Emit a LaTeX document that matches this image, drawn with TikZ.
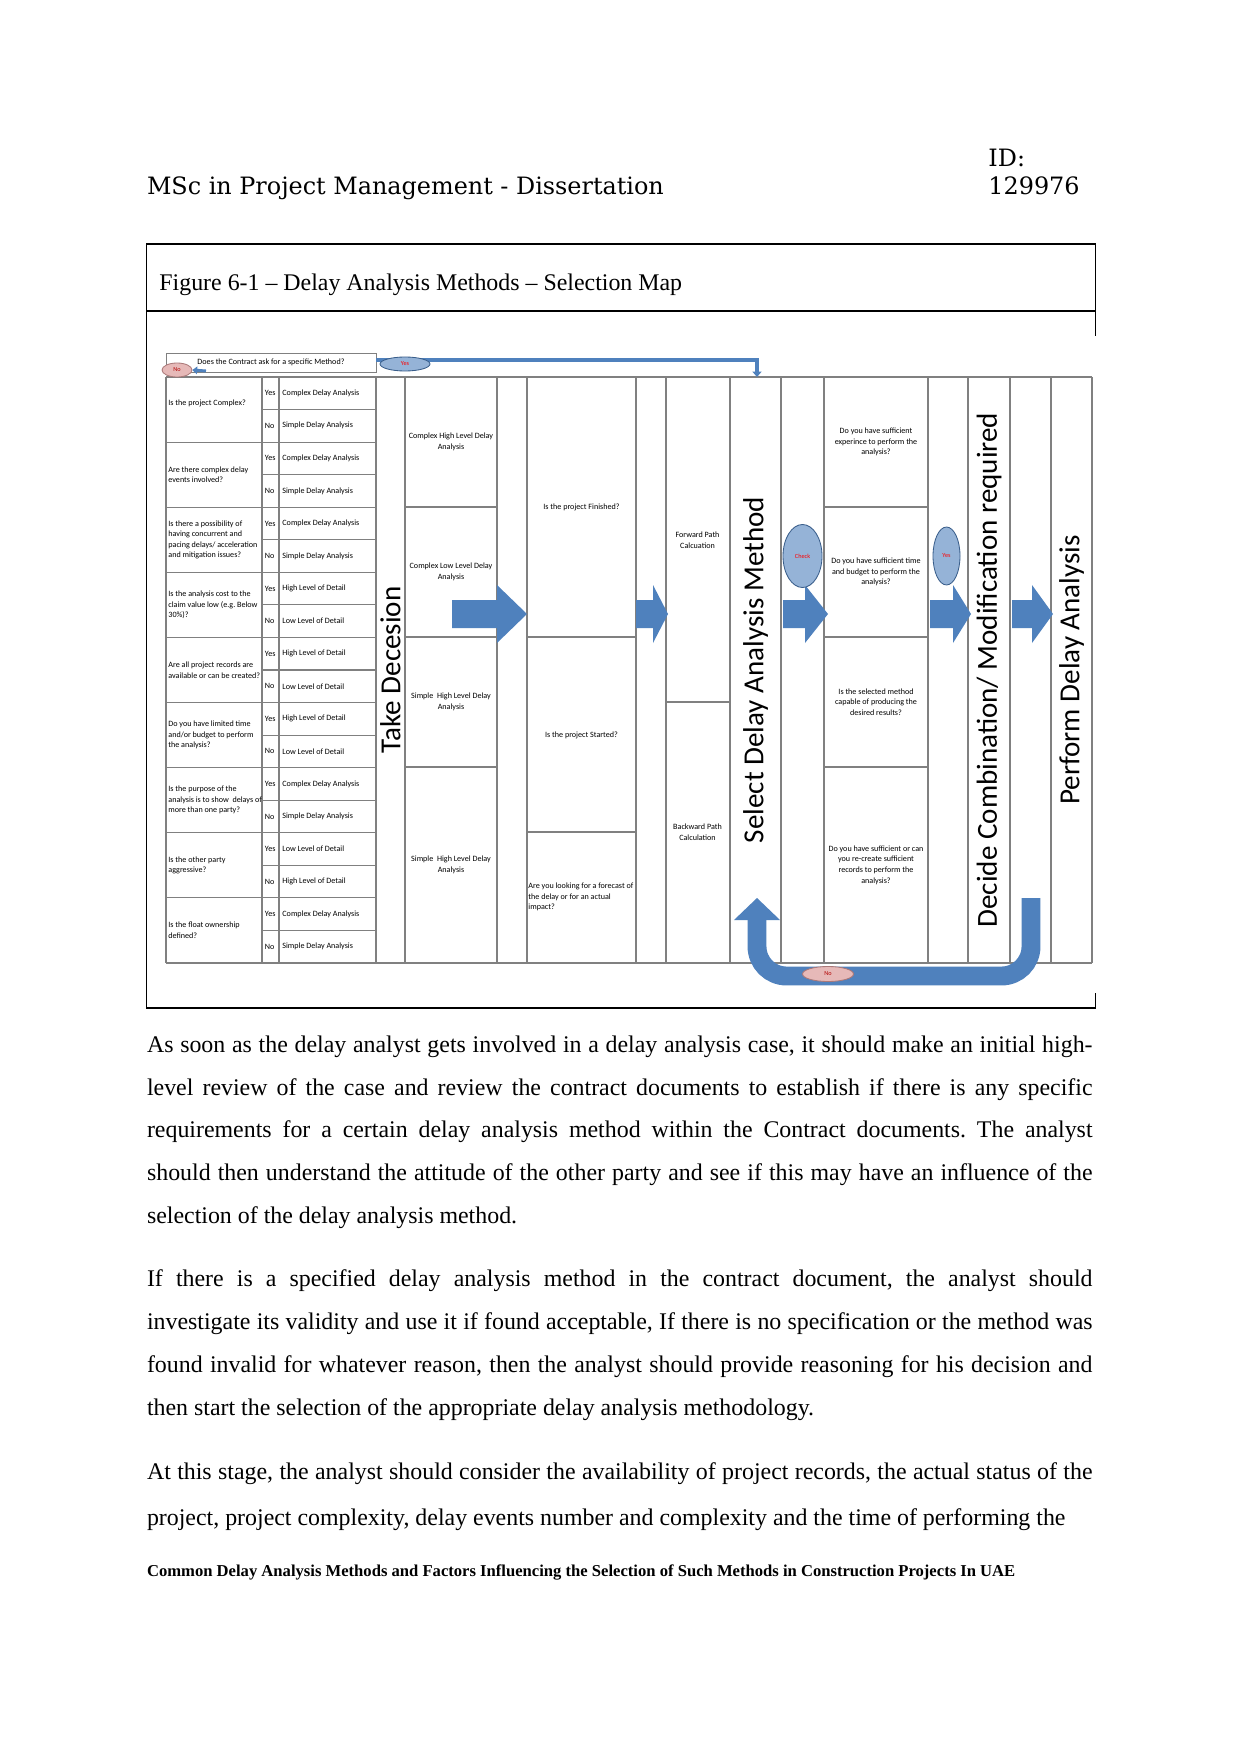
\documentclass[tikz,border=0pt]{standalone}
\usepackage{fontspec}
\setmainfont{Liberation Serif}
\newfontfamily\headfont{DejaVu Serif}
\newfontfamily\figfont{Carlito}
\usepackage{xcolor}
\usepackage{tikz}
\usetikzlibrary{arrows.meta, positioning, shapes.geometric, calc}
\frenchspacing

\definecolor{arrowblue}{RGB}{79,129,189}
\definecolor{ovalblue}{RGB}{149,179,215}
\definecolor{ovalline}{RGB}{56,93,138}
\definecolor{ovalpink}{RGB}{230,185,184}
\definecolor{pinkline}{RGB}{170,120,120}
\definecolor{gridgray}{RGB}{128,128,128}

\begin{document}
\begin{tikzpicture}[
    x=0.16922mm, y=-0.16922mm,
    grid/.style={draw=gridgray, line width=0.5pt},
    cell/.style={
        font={\figfont\fontsize{3.9}{5.1}\selectfont},
        align=center,
        inner sep=0pt
    },
    qtext/.style={cell, align=left, anchor=west},
    lanelabel/.style={
        font={\figfont\fontsize{14}{16}\selectfont},
        rotate=90,
        inner sep=0pt
    },
    yesoval/.style={
        ellipse,
        draw=ovalline,
        fill=ovalblue,
        inner sep=0pt,
        font={\figfont\fontsize{3}{3.5}\selectfont},
        text=red
    },
    nooval/.style={
        ellipse,
        draw=pinkline,
        fill=ovalpink,
        inner sep=0pt,
        font={\figfont\fontsize{3}{3.5}\selectfont},
        text=red!70!black
    },
    yesline/.style={
        arrowblue,
        line width=0.68mm,
        -{Triangle[length=0.9mm, width=1.5mm]}
    },
    uturn/.style={
        arrowblue,
        line width=3.2mm,
        rounded corners=5mm
    },
    headtext/.style={anchor=base west, inner sep=0pt, font={\headfont\fontsize{11.5}{13}\selectfont}},
    bodyline/.style={anchor=base west, inner sep=0pt, font={\fontsize{11.5}{14}\selectfont}}
]
\fill[white] (0,0) rectangle (1241,1754);
\useasboundingbox (0,0) rectangle (1241,1754);

% === Page header ===
\node[headtext] (title) at (146.6,195) {MSc in Project Management - Dissertation};
\node[headtext] (idlabel) at (988,167) {ID:};
\node[headtext] (idnum) at (988,195) {129976};

% === Figure frame ===
\draw[line width=0.6pt] (1095.5,336) -- (1095.5,244) -- (146.6,244) -- (146.6,1008) -- (1095.5,1008) -- (1095.5,993);
\draw[line width=0.6pt] (146.6,311) -- (1095.5,311);
\node[bodyline] (caption) at (159,291) {Figure 6-1 – Delay Analysis Methods – Selection Map};

% === Table grid ===
\foreach \x in {166,262,279,376,405,497,527,636,666,730,781,824,928,968,1010,1051,1092}
    \draw[grid] (\x,377) -- (\x,963);
\draw[grid] (279.8,377) -- (279.8,963);
\draw[grid] (166,377) -- (1092,377);
\draw[grid] (166,963) -- (1092,963);
\foreach \k in {1,...,17} {
    \pgfmathsetmacro{\yr}{377+\k*32.556}
    \draw[grid] (262,\yr) -- (376,\yr);
}
\foreach \k in {2,4,...,16} {
    \pgfmathsetmacro{\yr}{377+\k*32.556}
    \draw[grid] (166,\yr) -- (262,\yr);
}
\foreach \y in {507,637,767} {
    \draw[grid] (405,\y) -- (497,\y);
    \draw[grid] (824,\y) -- (928,\y);
}
\draw[grid] (527,637) -- (636,637);
\draw[grid] (527,832) -- (636,832);
\draw[grid] (666,702) -- (730,702);

% === Questions ===
\node[qtext] (q1) at (168,403) {Is the project Complex?};
\node[qtext] (q2) at (168,474.7) {Are there complex delay\\events involved?};
\node[qtext] (q3) at (168,539.8) {Is there a possibility of\\having concurrent and\\pacing delays/ acceleration\\and mitigation issues?};
\node[qtext] (q4) at (168,604.9) {Is the analysis cost to the\\claim value low (e.g. Below\\30\%)?};
\node[qtext] (q5) at (168,670) {Are all project records are\\available or can be created?};
\node[qtext] (q6) at (168,735.1) {Do you have limited time\\and/or budget to perform\\the analysis?};
\node[qtext] (q7) at (168,800.2) {Is the purpose of the\\analysis is to show\ \ delays of\\more than one party?};
\node[qtext] (q8) at (168,865.3) {Is the other party\\aggressive?};
\node[qtext] (q9) at (168,930.4) {Is the float ownership\\defined?};

% === Answers ===
\foreach \k/\yn/\ans in {1/Yes/Complex Delay Analysis, 2/No/Simple Delay Analysis,
    3/Yes/Complex Delay Analysis, 4/No/Simple Delay Analysis,
    5/Yes/Complex Delay Analysis, 6/No/Simple Delay Analysis,
    7/Yes/High Level of Detail, 8/No/Low Level of Detail,
    9/Yes/High Level of Detail, 10/No/Low Level of Detail,
    11/Yes/High Level of Detail, 12/No/Low Level of Detail,
    13/Yes/Complex Delay Analysis, 14/No/Simple Delay Analysis,
    15/Yes/Low Level of Detail, 16/No/High Level of Detail,
    17/Yes/Complex Delay Analysis, 18/No/Simple Delay Analysis} {
    \pgfmathsetmacro{\yc}{377+(\k-0.5)*32.556}
    \node[qtext] (yn\k) at (264.5,\yc) {\yn};
    \node[qtext] (ans\k) at (282,\yc) {\ans};
}

% === Methods and status ===
\node[cell] (m1) at (451,442) {Complex High Level Delay\\Analysis};
\node[cell] (m2) at (451,572) {Complex Low Level Delay\\Analysis};
\node[cell] (m3) at (451,702) {Simple\ \ High Level Delay\\Analysis};
\node[cell] (m4) at (451,865) {Simple\ \ High Level Delay\\Analysis};
\node[cell] (s1) at (581.5,507) {Is the project Finished?};
\node[cell] (s2) at (581.5,735) {Is the project Started?};
\node[qtext] (s3) at (528,897) {Are you looking for a forecast of\\the delay or for an actual\\impact?};
\node[cell] (p1) at (697.5,540) {Forward Path\\Calcuation};
\node[cell] (p2) at (697.5,832.5) {Backward Path\\Calculation};

% === Checks ===
\node[cell] (c1) at (876,442) {Do you have sufficient\\experince to perform the\\analysis?};
\node[cell] (c2) at (876,572) {Do you have sufficient time\\and budget to perform the\\analysis?};
\node[cell] (c3) at (876,702) {Is the selected method\\capable of producing the\\desired results?};
\node[cell] (c4) at (876,865) {Do you have sufficient or can\\you re-create sufficient\\records to perform the\\analysis?};

% === Lane labels ===
\node[lanelabel] (take) at (390.5,670) {Take Decesion};
\node[lanelabel] (select) at (755.5,670) {Select Delay Analysis Method};
\node[lanelabel] (decide) at (989,670) {Decide Combination/ Modification required};
\node[lanelabel] (perform) at (1071.5,670) {Perform Delay Analysis};

% === Block arrows ===
\foreach \xs/\xh/\xt in {452/497/527, 636/653/668, 783/805/828, 930/953/971, 1012/1032/1053}
    \fill[arrowblue] (\xs,600) -- (\xh,600) -- (\xh,585) -- (\xt,614) -- (\xh,643) -- (\xh,628) -- (\xs,628) -- cycle;

\node[yesoval, minimum width=6.6mm, minimum height=10.66mm] (check) at (802.5,556) {Check};
\node[yesoval, minimum width=4.57mm, minimum height=9.81mm] (ok) at (946.5,556) {Yes};

% === Contract question ===
\node[draw=gridgray, fill=white, minimum width=35.54mm, minimum height=3.22mm, cell] (contract) at (271,362.5) {Does the Contract ask for a specific Method?};
\coordinate (selecttop) at (757,377);
\draw[yesline] ([yshift=0.42mm]contract.east) -| (selecttop);
\node[yesoval, minimum width=8.46mm, minimum height=2.37mm] (specyes) at (405,364) {Yes};
\node[nooval, minimum width=5.08mm, minimum height=2.37mm] (specno) at (177,370) {No};
\coordinate (nostart) at (206,371);
\draw[arrowblue, line width=0.5mm, -{Triangle[length=0.8mm, width=1.3mm]}] (nostart) -- (specno.east);

% === Loop back ===
\coordinate (loopstart) at (1031,898);
\coordinate (loopbase) at (757,920);
\coordinate (looptip) at (757,898);
\draw[uturn] (loopstart) -- (1031,976) -- (757,976) -- (loopbase);
\fill[arrowblue] (734,920) -- (looptip) -- (780,920) -- cycle;
\node[nooval, minimum width=8.63mm, minimum height=2.54mm] (loopno) at (828,974) {No};

% === Body text ===
\node[bodyline] (a1) at (146.6,1052) {\makebox[160mm][s]{As soon as the delay analyst gets involved in a delay analysis case, it should make an initial high-}};
\node[bodyline] (a2) at (146.6,1095) {\makebox[160mm][s]{level review of the case and review the contract documents to establish if there is any specific}};
\node[bodyline] (a3) at (146.6,1137) {\makebox[160mm][s]{requirements for a certain delay analysis method within the Contract documents. The analyst}};
\node[bodyline] (a4) at (146.6,1180) {\makebox[160mm][s]{should then understand the attitude of the other party and see if this may have an influence of the}};
\node[bodyline] (a5) at (146.6,1223) {selection of the delay analysis method.};

\node[bodyline] (b1) at (146.6,1286) {\makebox[160mm][s]{If there is a specified delay analysis method in the contract document, the analyst should}};
\node[bodyline] (b2) at (146.6,1329) {\makebox[160mm][s]{investigate its validity and use it if found acceptable, If there is no specification or the method was}};
\node[bodyline] (b3) at (146.6,1372) {\makebox[160mm][s]{found invalid for whatever reason, then the analyst should provide reasoning for his decision and}};
\node[bodyline] (b4) at (146.6,1415) {then start the selection of the appropriate delay analysis methodology.};

\node[bodyline] (c1) at (146.6,1479) {\makebox[160mm][s]{At this stage, the analyst should consider the availability of project records, the actual status of the}};
\node[bodyline] (c2) at (146.6,1525) {project, project complexity, delay events number and complexity and the time of performing the};

% === Footer ===
\node[anchor=base west, inner sep=0pt, font={\bfseries\fontsize{8}{10}\selectfont}] (footer) at (146.6,1576) {Common Delay Analysis Methods and Factors Influencing the Selection of Such Methods in Construction Projects In UAE};

\end{tikzpicture}
\end{document}
